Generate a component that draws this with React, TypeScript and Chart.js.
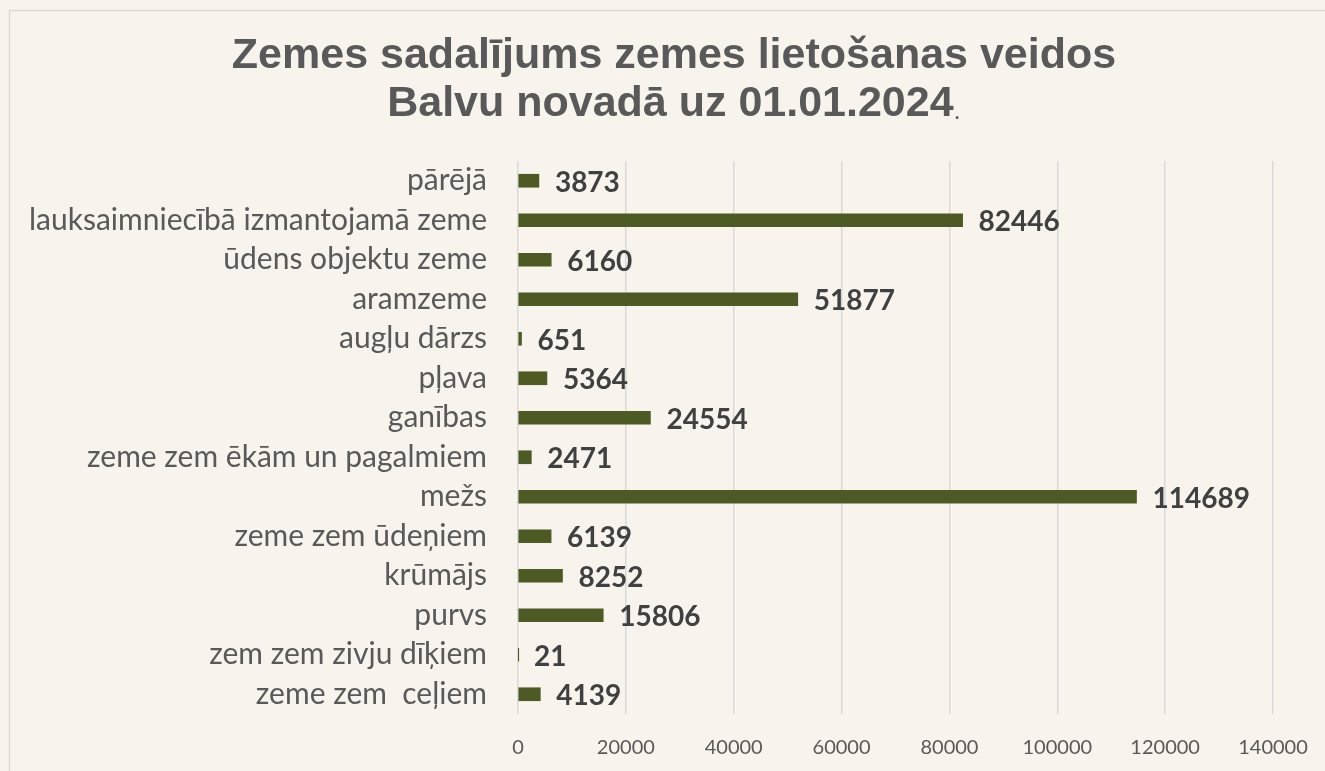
import React, { useEffect, useRef } from "react";
import { Chart, registerables } from "chart.js";

Chart.register(...registerables);

const categories: string[] = [
  "pārējā",
  "lauksaimniecībā izmantojamā zeme",
  "ūdens objektu zeme",
  "aramzeme",
  "augļu dārzs",
  "pļava",
  "ganības",
  "zeme zem ēkām un pagalmiem",
  "mežs",
  "zeme zem ūdeņiem",
  "krūmājs",
  "purvs",
  "zem zem zivju dīķiem",
  "zeme zem  ceļiem",
];

const areaValues: number[] = [
  3873, 82446, 6160, 51877, 651, 5364, 24554, 2471, 114689, 6139, 8252, 15806, 21, 4139,
];

const titleLine1 = "Zemes sadalījums zemes lietošanas veidos";
const titleLine2 = "Balvu novadā uz 01.01.2024";
const titleTail = ".";

const xMin = 0;
const xMax = 140000;
const xStep = 20000;

const BG = "#F9F3ED";
const BAR = "#4E5A23";
const TEXT = "#595959";
const LABEL = "#404040";
const GRID = "#D9D9D9";
const FONT = "Lato, 'Open Sans', sans-serif";

const backgroundPlugin = {
  id: "bgBorder",
  beforeDraw(chart: any) {
    const ctx = chart.ctx;
    ctx.save();
    ctx.fillStyle = BG;
    ctx.fillRect(0, 0, chart.width, chart.height);
    ctx.strokeStyle = GRID;
    ctx.lineWidth = 1.5;
    ctx.strokeRect(9.5, 10.5, 1400, 800);
    ctx.restore();
  },
};

const titlePlugin = {
  id: "customTitle",
  afterDraw(chart: any) {
    const ctx = chart.ctx;
    ctx.save();
    ctx.fillStyle = TEXT;
    ctx.textBaseline = "middle";
    const cx = 674;
    const boldFont = "bold 43px 'Liberation Sans', Arial, sans-serif";
    const tailFont = "26px 'Liberation Sans', Arial, sans-serif";
    ctx.font = boldFont;
    ctx.textAlign = "center";
    ctx.fillText(titleLine1, cx, 56);
    const w2 = ctx.measureText(titleLine2).width;
    ctx.font = tailFont;
    const wt = ctx.measureText(titleTail).width;
    const start = cx - (w2 + wt) / 2;
    ctx.textAlign = "left";
    ctx.font = boldFont;
    ctx.fillText(titleLine2, start, 104);
    ctx.font = tailFont;
    ctx.textBaseline = "alphabetic";
    ctx.fillText(titleTail, start + w2, 119);
    ctx.restore();
  },
};

const dataLabelPlugin = {
  id: "dataLabels",
  afterDatasetsDraw(chart: any) {
    const ctx = chart.ctx;
    const meta = chart.getDatasetMeta(0);
    const ds = chart.data.datasets[0];
    ctx.save();
    ctx.fillStyle = LABEL;
    ctx.font = `bold 28px ${FONT}`;
    ctx.textAlign = "left";
    ctx.textBaseline = "middle";
    meta.data.forEach((bar: any, i: number) => {
      ctx.fillText(String(ds.data[i]), bar.x + 16, bar.y + 2);
    });
    ctx.restore();
  },
};

export default function App() {
  const canvasRef = useRef<HTMLCanvasElement | null>(null);

  useEffect(() => {
    document.body.style.margin = "0";
    document.body.style.background = BG;
    const canvas = canvasRef.current;
    if (!canvas) return;
    const chart = new Chart(canvas, {
      type: "bar",
      data: {
        labels: categories,
        datasets: [
          {
            data: areaValues,
            backgroundColor: BAR,
            barThickness: 13,
          },
        ],
      },
      options: {
        indexAxis: "y",
        animation: false,
        responsive: false,
        maintainAspectRatio: false,
        layout: { padding: { top: 161, right: 52, left: 0, bottom: 0 } },
        plugins: {
          legend: { display: false },
          title: { display: false },
          tooltip: { enabled: false },
        },
        scales: {
          x: {
            min: xMin,
            max: xMax,
            border: { display: false },
            grid: { color: GRID, lineWidth: 1.5, drawTicks: false },
            ticks: {
              stepSize: xStep,
              color: TEXT,
              padding: 22,
              font: { family: FONT, size: 20 },
              callback: (v: any) => String(v),
            },
            afterFit: (scale: any) => {
              scale.height = 57;
              scale.paddingLeft = 0;
              scale.paddingRight = 0;
            },
          },
          y: {
            border: { display: false },
            grid: { display: false, drawTicks: false },
            ticks: {
              color: TEXT,
              padding: 31,
              font: { family: FONT, size: 30 },
              autoSkip: false,
            },
            afterFit: (scale: any) => {
              scale.width = 518;
              scale.paddingTop = 0;
              scale.paddingBottom = 0;
            },
          },
        },
      },
      plugins: [backgroundPlugin, titlePlugin, dataLabelPlugin],
    });
    return () => chart.destroy();
  }, []);

  return (
    <div style={{ position: "fixed", left: 0, top: 0, width: 1325, height: 771 }}>
      <canvas ref={canvasRef} width={1325} height={771} />
    </div>
  );
}
